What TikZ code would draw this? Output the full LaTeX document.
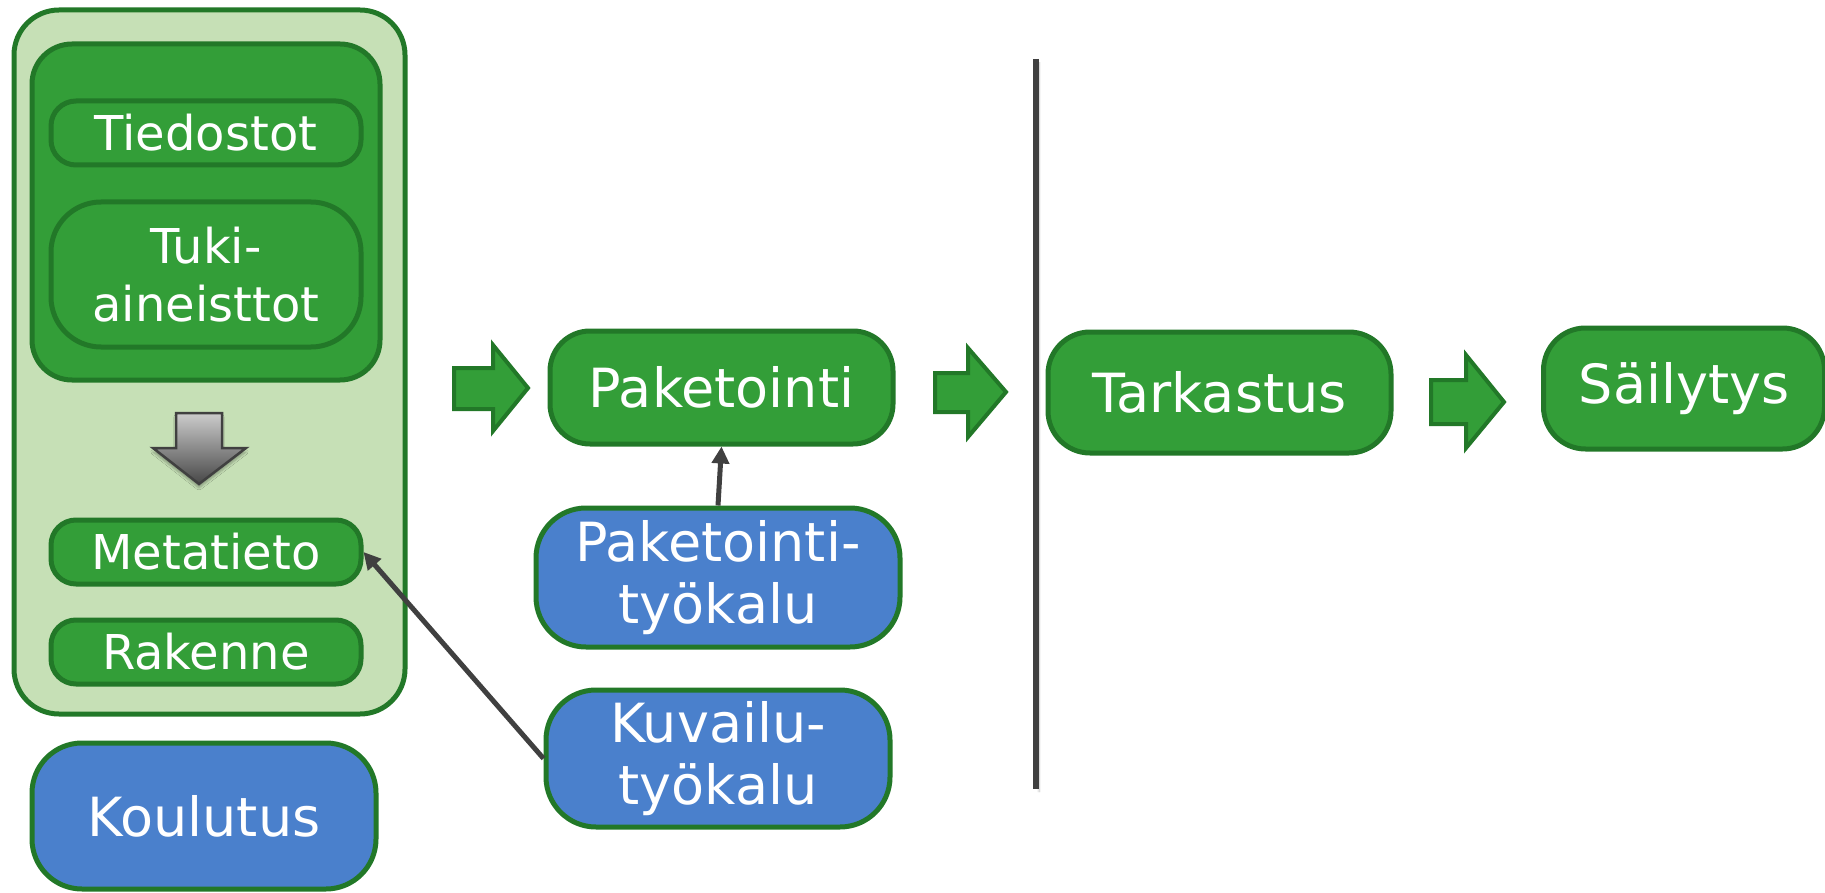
\documentclass[tikz,border=0pt]{standalone}
\usepackage{fontspec}
\setmainfont{DejaVu Sans}
\usetikzlibrary{arrows.meta,shadows.blur}
\definecolor{gfill}{RGB}{51,158,56}
\definecolor{gline}{RGB}{34,120,40}
\definecolor{bfill}{RGB}{74,128,204}
\definecolor{lgfill}{RGB}{198,224,182}
\definecolor{conn}{RGB}{64,64,64}
\tikzset{
  box/.style={draw=gline, line width=5pt, rounded corners=#1, inner sep=0pt,
    text=white, align=center},
  box/.default=40pt,
  gbox/.style={box=#1, fill=gfill},
  gbox/.default=40pt,
  bbox/.style={box=#1, fill=bfill},
  bbox/.default=45pt,
  smalltxt/.style={font=\fontsize{48}{58}\selectfont},
  bigtxt/.style={font=\fontsize{54}{62}\selectfont},
  blockarrow/.style={draw=gline, line width=4pt, fill=gfill, line join=miter},
  conline/.style={draw=conn, line width=5pt, -{Triangle[length=17pt,width=17pt]}},
}
\begin{document}
\begin{tikzpicture}[x=1pt,y=-1pt]
\useasboundingbox (0,0) rectangle (1825,893);
% left container
\node[box=45pt, fill=lgfill, minimum width=391pt, minimum height=704pt] (outer) at (209.5,362) {};
\node[gbox=40pt, minimum width=348pt, minimum height=336pt] (inner) at (206,212) {};
\node[gbox=25pt, smalltxt, minimum width=310pt, minimum height=64pt] (tied) at (206,133) {Tiedostot};
\node[gbox=50pt, smalltxt, minimum width=310pt, minimum height=145pt] (tuki) at (206,274.5) {Tuki-\\aineisttot};
\node[gbox=25pt, smalltxt, minimum width=310pt, minimum height=64pt] (meta) at (206,552) {Metatieto};
\node[gbox=25pt, smalltxt, minimum width=310pt, minimum height=64pt] (rak) at (206,652) {Rakenne};
% gray arrow
\shade[top color=gray!40, bottom color=black!72, draw=black!75, line width=2.5pt, line join=miter,
  blur shadow={shadow blur steps=6, shadow xshift=0pt, shadow yshift=-4pt, shadow opacity=30}]
  (176,413) -- (222,413) -- (222,448) -- (246,448) -- (199,484) -- (153,448) -- (176,448) -- cycle;
% Koulutus
\node[bbox=50pt, bigtxt, minimum width=344pt, minimum height=146pt] (koul) at (204,816) {Koulutus};
% middle
\node[gbox=40pt, bigtxt, minimum width=343pt, minimum height=113pt] (pak) at (721.5,387.5) {Paketointi};
\node[bbox=50pt, bigtxt, minimum width=364pt, minimum height=139pt] (ptk) at (718,577.5) {Paketointi-\\työkalu};
\node[bbox=50pt, bigtxt, minimum width=344pt, minimum height=137pt] (kuv) at (718,758.5) {Kuvailu-\\työkalu};
% right
\node[gbox=42pt, bigtxt, minimum width=343pt, minimum height=121pt] (tark) at (1219.5,392.5) {Tarkastus};
\node[gbox=42pt, bigtxt, minimum width=281pt, minimum height=121pt] (sail) at (1684,388.5) {Säilytys};
% block arrows
\draw[blockarrow] (454,368) -- (493,368) -- (493,345) -- (528,388) -- (493,431) -- (493,409) -- (454,409) -- cycle;
\draw[blockarrow] (935,373) -- (968,373) -- (968,348) -- (1006,392) -- (968,437) -- (968,412) -- (935,412) -- cycle;
\draw[blockarrow] (1431,380) -- (1466,380) -- (1466,355) -- (1504,402) -- (1466,448) -- (1466,424) -- (1431,424) -- cycle;
% vertical divider
\coordinate (vtop) at (1036,59);
\coordinate (vbot) at (1036,789);
\draw[conn, line width=6pt, blur shadow={shadow blur steps=6, shadow xshift=3pt, shadow yshift=-3pt, shadow opacity=25}] (vtop) -- (vbot);
% connectors
\draw[conline] (ptk.north) -- (pak.south);
\draw[conline] (kuv.west) -- (meta.east);
\end{tikzpicture}
\end{document}
